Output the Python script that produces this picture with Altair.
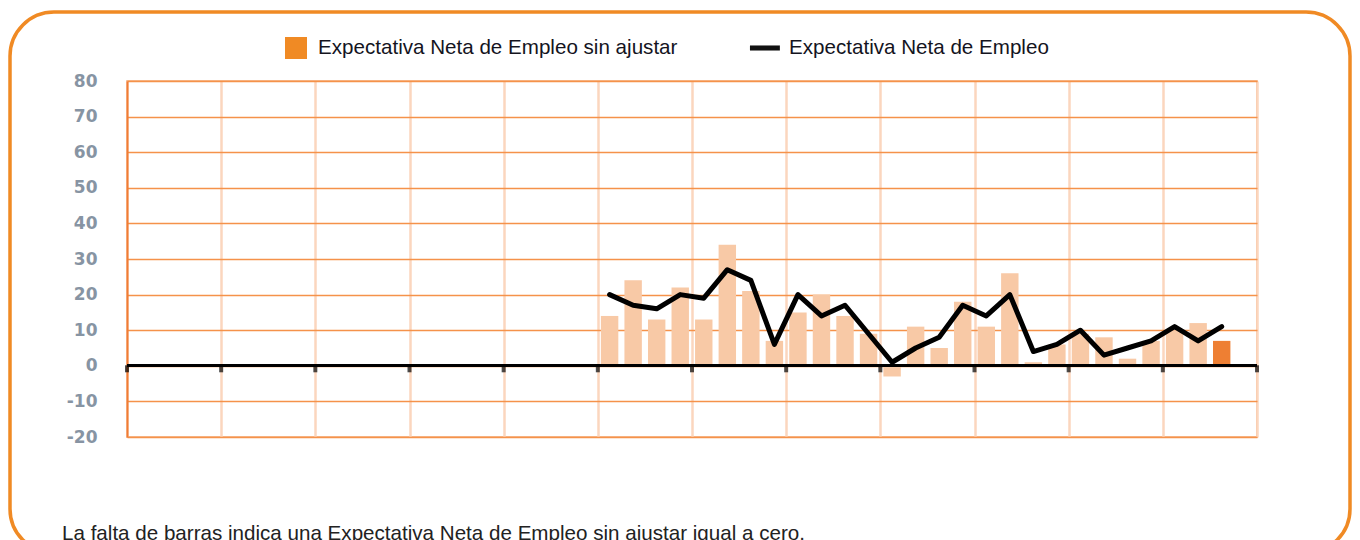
import altair as alt
import pandas as pd

# ---- data ----
quarters = list(range(20, 47))  # quarter slots (48 slots = 12 year blocks of 4)
sin_ajustar = [14, 24, 13, 22, 13, 34, 21, 7, 15, 20, 14, 9, -3, 11, 5, 18, 11, 26, 1, 6, 9, 8, 2, 7, 10, 12, 7]
neta = [20, 17, 16, 20, 19, 27, 24, 6, 20, 14, 17, 9, 1, 5, 8, 17, 14, 20, 4, 6, 10, 3, 5, 7, 11, 7, 11]
year_bounds = list(range(0, 49, 4))
y_ticks = list(range(-20, 81, 10))
series = ["Expectativa Neta de Empleo sin ajustar", "Expectativa Neta de Empleo"]
footnote = ["La falta de barras indica una Expectativa Neta de Empleo sin ajustar igual a cero."]

df = pd.DataFrame({"q": quarters, "bar": sin_ajustar, "line": neta})
df["x0"] = df["q"] + 0.13
df["x1"] = df["q"] + 0.87
df["xc"] = df["q"] + 0.5
bounds = pd.DataFrame({"b": year_bounds})
leg1 = pd.DataFrame({"s": [series[0]]})
leg2 = pd.DataFrame({"s": [series[1]]})
notes = pd.DataFrame({"t": footnote})

PEACH = "#F8C9A6"
DARK = "#EE7F33"
ORANGE = "#F08A24"
GRID_H = "#F5924A"
GRID_V = "#FBD6BE"

xscale = alt.Scale(domain=[0, 48], nice=False, zero=False)
yscale = alt.Scale(domain=[-20, 80], nice=False)

xaxis = alt.Axis(values=year_bounds, grid=True, gridColor=GRID_V, gridWidth=2.5,
                 domain=False, ticks=False, labels=False, title=None)
yaxis = alt.Axis(values=y_ticks, grid=True, gridColor=GRID_H, gridWidth=1.5,
                 domain=True, domainColor="#F07C35", domainWidth=2,
                 ticks=False, labelPadding=30, labelFont="DejaVu Sans",
                 labelFontWeight="bold", labelFontSize=17, labelColor="#8794A3",
                 labelExpr="'' + datum.value", labelOverlap=False, title=None)

bars = alt.Chart(df).mark_bar().encode(
    x=alt.X("x0:Q", scale=xscale, axis=xaxis),
    x2="x1:Q",
    y=alt.Y("bar:Q", scale=yscale, axis=yaxis),
    y2=alt.datum(0),
    color=alt.condition("datum.q == 46", alt.value(DARK), alt.value(PEACH)),
)

zero = alt.Chart(bounds).mark_rule(color="black", strokeWidth=2.5).encode(
    y=alt.Y(datum=0, scale=yscale, axis=yaxis)
)

ticks = alt.Chart(bounds).mark_tick(color="black", orient="vertical", size=7,
                                    thickness=4, yOffset=3).encode(
    x=alt.X("b:Q", scale=xscale, axis=xaxis),
    y=alt.Y(datum=0, scale=yscale, axis=yaxis),
)

line = alt.Chart(df).mark_line(color="black", strokeWidth=5, strokeJoin="round",
                               strokeCap="round").encode(
    x=alt.X("xc:Q", scale=xscale, axis=xaxis),
    y=alt.Y("line:Q", scale=yscale, axis=yaxis),
)

common_leg = dict(orient="none", legendY=-44, direction="horizontal", title=None,
                  symbolSize=484, symbolOpacity=1, symbolStrokeWidth=0,
                  labelFont="Liberation Sans", labelFontSize=20.6,
                  labelColor="#14141E", labelOffset=11, labelLimit=800)

legend_bar = alt.Chart(leg1).mark_square(opacity=0, size=1).encode(
    x=alt.value(0), y=alt.value(0),
    color=alt.Color("s:N", scale=alt.Scale(domain=[series[0]], range=[ORANGE]),
                    legend=alt.Legend(legendX=158, symbolType="square", **common_leg)),
)

legend_line = alt.Chart(leg2).mark_square(opacity=0, size=1).encode(
    x=alt.value(0), y=alt.value(0),
    fill=alt.Fill("s:N", scale=alt.Scale(domain=[series[1]], range=["#111111"]),
                  legend=alt.Legend(legendX=629,
                                    symbolType="M-1.55,-0.23L1.17,-0.23L1.17,0.23L-1.55,0.23Z",
                                    **common_leg)),
)

frame = alt.Chart(pd.DataFrame({"f": [0]})).mark_rect(
    filled=False, stroke=ORANGE, strokeWidth=3.5, cornerRadius=44
).encode(
    x=alt.value(-117), x2=alt.value(1223), y=alt.value(-69), y2=alt.value(472)
)

note = alt.Chart(notes).mark_text(align="left", baseline="alphabetic", fontSize=20.6,
                                  font="Liberation Sans", color="#222222").encode(
    x=alt.value(-65), y=alt.value(459), text="t:N"
)

chart = alt.layer(frame, bars, zero, ticks, line, legend_bar, legend_line, note).properties(
    width=1130, height=356,
    autosize=alt.AutoSizeParams(type="none"),
    padding={"left": 119, "top": 73, "right": 95, "bottom": 125},
).resolve_scale(color="independent", fill="independent").configure_view(
    stroke="#F4A46E", strokeWidth=1.5)

chart.save("out.html", embed_options={"renderer": "svg", "actions": False})
